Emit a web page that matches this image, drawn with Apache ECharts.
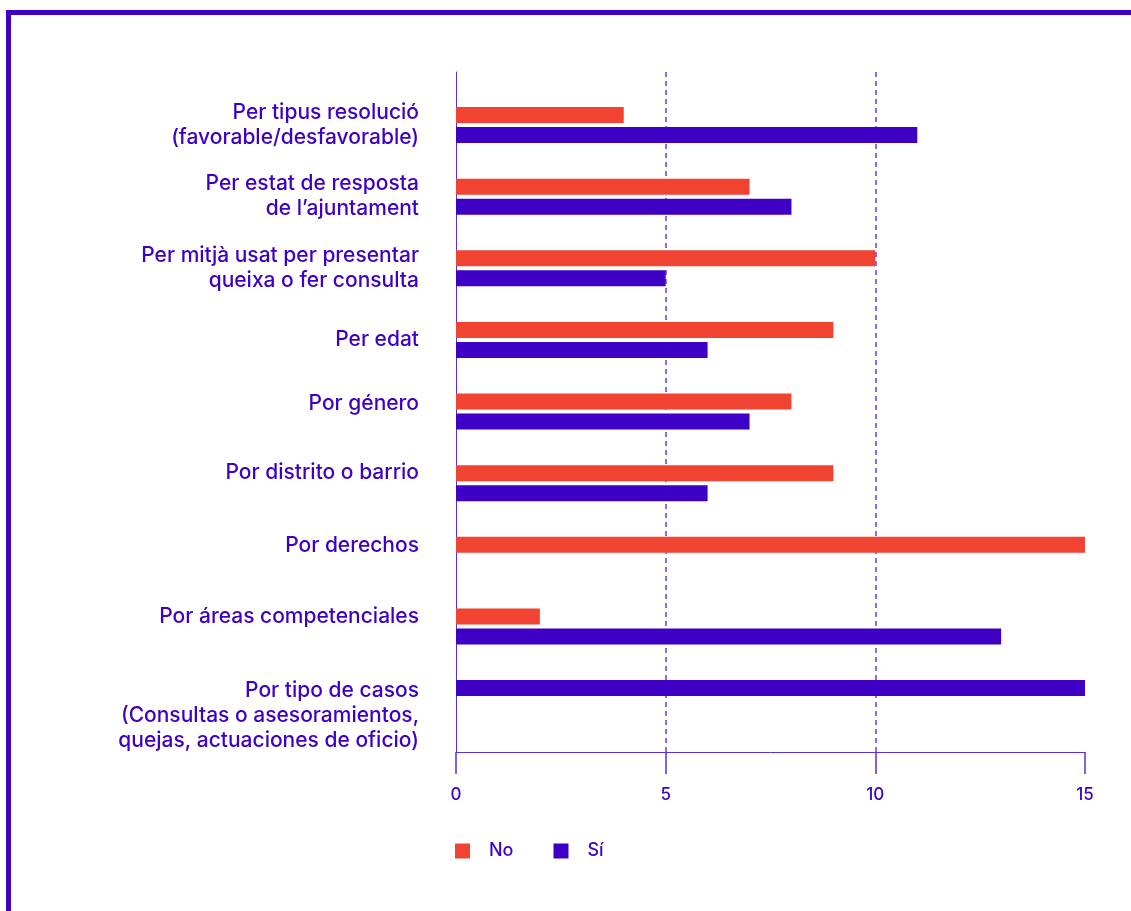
<!DOCTYPE html>
<html>
<head>
<meta charset="utf-8">
<script src="https://cdn.jsdelivr.net/npm/echarts@6/dist/echarts.min.js"></script>
<style>
  html, body { margin: 0; padding: 0; background: #fff; }
  .frame {
    position: absolute;
    left: 6px; top: 10px; width: 1200px; height: 1000px;
    border-top: 5px solid #3d00c4;
    border-left: 5px solid #3d00c4;
  }
  #chart { position: absolute; left: 0; top: 0; width: 1131px; height: 911px; }
</style>
</head>
<body>
<div class="frame"></div>
<div id="chart"></div>
<script>
// categorias (de arriba a abajo)
const categories = [
  'Per tipus resolució\n(favorable/desfavorable)',
  'Per estat de resposta\nde l\u2019ajuntament',
  'Per mitjà usat per presentar\nqueixa o fer consulta',
  'Per edat',
  'Por género',
  'Por distrito o barrio',
  'Por derechos',
  'Por áreas competenciales',
  'Por tipo de casos\n(Consultas o asesoramientos,\nquejas, actuaciones de oficio)'
]
const noValues = [4, 7, 10, 9, 8, 9, 15, 2, 0]
const siValues = [11, 8, 5, 6, 7, 6, 0, 13, 15]
const xTicks = [0, 5, 10, 15]

// desplazamiento vertical de cada etiqueta (px)
const labelShift = [0, 0, 0, 0, -8, -10, -9, -10, 18]

const RED = '#f04332'
const PURPLE = '#3d00c4'
const LINE = '#5a2ee0'
const FONT = 'Inter'
const LABEL_SIZE = 21

// las barras vacias no ocupan hueco: la primera barra de cada fila va arriba
let slot1 = [], slot2 = []
categories.forEach((c, i) => {
  if (noValues[i] > 0) {
    slot1.push(noValues[i])
    slot2.push(siValues[i] > 0 ? siValues[i] : null)
  } else {
    slot1.push({ value: siValues[i], itemStyle: { color: PURPLE } })
    slot2.push(null)
  }
})

// estilos rich para mover cada etiqueta
let rich = {
  t: { color: PURPLE, fontSize: LABEL_SIZE, lineHeight: 25, fontFamily: FONT, fontWeight: 500, align: 'right' }
}
categories.forEach((c, i) => {
  let d = labelShift[i]
  if (d > 0) rich['sp' + i] = { fontSize: 1, lineHeight: 2 * d, align: 'right' }
  if (d < 0) rich['b' + i] = Object.assign({}, rich.t, { padding: [0, 0, -2 * d, 0] })
})

function labelFormatter(value, idx) {
  let d = labelShift[idx]
  let lines = value.split('\n')
  let out = lines.map((l, k) => {
    let st = (d < 0 && k === lines.length - 1) ? 'b' + idx : 't'
    return '{' + st + '|' + l + '}'
  })
  if (d > 0) out.unshift('{sp' + idx + '| }')
  return out.join('\n')
}

let chart = echarts.init(document.getElementById('chart'))
let option = {
  animation: false,
  textStyle: { fontFamily: FONT },
  grid: [
    { left: 456, right: 46, top: 72, bottom: 159 },
    { left: 456, right: 46, top: 125, bottom: 213 }
  ],
  xAxis: [
    {
      gridIndex: 0, type: 'value', position: 'bottom',
      min: xTicks[0], max: xTicks[xTicks.length - 1], interval: 5,
      axisLine: { show: true, onZero: false, lineStyle: { color: LINE, width: 1 } },
      axisTick: { show: true, inside: false, length: 22, lineStyle: { color: LINE, width: 1.5 } },
      axisLabel: { color: PURPLE, fontSize: 17, fontWeight: 500, margin: 34, fontFamily: FONT },
      splitLine: {
        show: true, showMinLine: false, showMaxLine: false,
        lineStyle: { color: '#6a3de8', type: [5, 4], width: 1.5 }
      }
    },
    {
      gridIndex: 1, type: 'value', min: xTicks[0], max: xTicks[xTicks.length - 1],
      show: false
    }
  ],
  yAxis: [
    {
      gridIndex: 0, type: 'value', min: 0, max: 1,
      axisLine: { show: true, lineStyle: { color: LINE, width: 1 } },
      axisTick: { show: false }, axisLabel: { show: false }, splitLine: { show: false }
    },
    {
      gridIndex: 1, type: 'category', data: categories, inverse: true, boundaryGap: false,
      axisLine: { show: false }, axisTick: { show: false }, splitLine: { show: false },
      axisLabel: {
        color: PURPLE, fontSize: LABEL_SIZE, lineHeight: 25, margin: 37, align: 'right',
        fontFamily: FONT, fontWeight: 500, interval: 0, hideOverlap: false,
        showMinLabel: true, showMaxLabel: true,
        formatter: labelFormatter,
        rich: rich
      }
    }
  ],
  legend: {
    left: 455, top: 842, padding: 0,
    itemWidth: 15, itemHeight: 15, itemGap: 40,
    icon: 'rect',
    data: ['No', 'Sí'],
    textStyle: { color: PURPLE, fontSize: 18, fontWeight: 500, fontFamily: FONT, padding: [0, 0, 0, 14] }
  },
  series: [
    {
      name: 'No', type: 'bar', xAxisIndex: 1, yAxisIndex: 1,
      data: slot1, barWidth: 16, barGap: '25%',
      itemStyle: { color: RED }
    },
    {
      name: 'Sí', type: 'bar', xAxisIndex: 1, yAxisIndex: 1,
      data: slot2, barWidth: 16, barGap: '25%',
      itemStyle: { color: PURPLE }
    }
  ]
}
option && chart.setOption(option)
</script>
</body>
</html>
